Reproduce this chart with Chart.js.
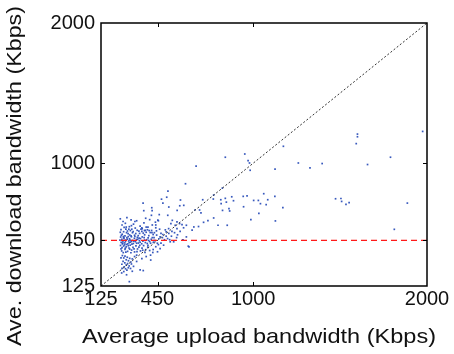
<!DOCTYPE html>
<html><head><meta charset="utf-8">
<script src="https://cdn.jsdelivr.net/npm/chart.js@4"></script>
<style>html,body{margin:0;padding:0;background:#fff}#c{display:block}</style>
</head><body>
<canvas id="c" width="454" height="354"></canvas>
<script>
// Average upload (x) and download (y) bandwidth per peer, Kbps
const uploadKbps = [
1975,1600,1600,1593,1174,1790,952,971,979,983,840,672,1260,1397,1327,1658,1126,611,510,473,481,503,367,371,417,419,415,460,452,515,509,563,578,582,601,710,665,692,700,773,771,814,816,840,846,877,887,823,943,965,1003,1030,1042,1061,1084,1075,1125,1171,945,824,861,865,1128,987,1033,798,773,851,740,686,715,627,595,1474,1505,1509,1534,1552,1887,1812,
535,527,562,577,591,552,514,500,533,562,481,465,508,523,543,485,465,450,423,411,631,597,616,649,659,616,
236,252,274,298,246,265,288,312,330,350,372,395,405,420,438,258,322,362,440,382,
240,255,268,281,294,306,318,333,347,360,376,392,408,425,444,247,263,277,290,302,325,339,355,368,385,400,416,432,236,272,310,343,380,242,298,
238,245,251,257,262,268,274,279,284,289,295,300,306,311,317,323,329,334,340,346,352,359,366,373,380,388,396,405,414,426,437,449,241,248,254,266,271,282,292,303,314,320,336,350,362,376,391,420,258,287,344,399,234,276,
237,246,255,263,270,278,286,293,301,309,318,326,335,343,352,361,370,382,394,244,253,268,282,297,315,332,348,365,240,260,290,378,405,
248,256,263,270,276,283,290,297,262,270,278,287,300,252,258,266,274,282,295,245,305,318,330,350,368,244,256,272,305,288,240,312,330,360,385,410,246,
385,402,418,430,445,458,470,462,478,490,455,440,425,470,500,515,495,530,548,520,565,580,600,560,410,395,430,360,375,440,455,300,320,270,285,255,265,250,300,330
];
const downloadKbps = [
1227,1208,1189,1140,1121,1043,1066,1019,1002,950,1043,979,1002,998,967,991,958,854,801,744,716,758,716,662,683,662,629,634,594,688,629,664,697,738,700,740,667,667,646,773,745,740,712,750,723,761,733,823,764,768,735,735,712,783,740,705,764,684,690,664,676,660,589,598,643,558,610,558,591,549,579,409,454,747,749,728,707,719,716,529,
593,570,582,570,563,558,534,511,515,534,492,475,463,440,440,416,392,369,364,310,404,452,475,523,546,558,
604,585,612,596,560,572,548,566,590,552,575,545,598,560,580,543,538,533,540,608,
527,512,530,498,520,505,487,522,500,514,490,526,506,492,518,494,483,517,489,530,499,484,531,502,508,484,521,505,508,505,513,516,522,486,482,
474,458,441,467,432,452,470,425,446,461,437,476,450,428,465,441,456,472,431,448,463,426,444,470,435,455,468,442,458,436,449,430,436,425,478,444,421,477,452,423,444,478,458,437,475,452,428,470,451,434,466,450,452,459,
414,398,410,386,404,372,396,416,381,400,368,411,389,402,375,395,413,384,402,375,363,367,412,362,390,370,415,380,390,418,388,365,378,
342,325,338,312,330,305,322,296,290,275,285,268,282,300,262,248,238,255,250,280,318,335,300,240,235,218,228,205,230,156,325,265,345,320,335,345,250,
545,520,505,470,488,462,500,530,470,455,420,405,385,430,480,500,525,480,505,455,490,515,540,470,430,415,448,540,520,560,590,555,585,545,530,470,395,430,445,430
];
const tickValues = [125, 450, 1000, 2000];
const axisMin = 125, axisMax = 2000;
const thresholdKbps = 450;
const xTitle = 'Average upload bandwidth (Kbps)';
const yTitle = 'Ave. download bandwidth (Kbps)';

const points = uploadKbps.map((x, i) => ({x: x, y: downloadKbps[i]}));
const FONT = '"Liberation Sans", Arial, Helvetica, sans-serif';

function fitText(ctx, text, cx, cy, width) {
  const w = ctx.measureText(text).width;
  ctx.save();
  ctx.translate(cx, cy);
  ctx.scale(width / w, 1);
  ctx.fillText(text, 0, 0);
  ctx.restore();
}

const framePlugin = {
  id: 'frame',
  afterDatasetsDraw(chart) {
    const {ctx, chartArea: a, scales} = chart;
    ctx.save();
    ctx.strokeStyle = '#000';
    ctx.lineWidth = 1.5;
    ctx.strokeRect(a.left, a.top, a.right - a.left, a.bottom - a.top);
    ctx.lineWidth = 1;
    const L = 4;
    tickValues.forEach(v => {
      if (v === axisMin || v === axisMax) return;
      const px = Math.round(scales.x.getPixelForValue(v)) + 0.5;
      ctx.beginPath();
      ctx.moveTo(px, a.bottom); ctx.lineTo(px, a.bottom - L);
      ctx.moveTo(px, a.top); ctx.lineTo(px, a.top + L);
      ctx.stroke();
      const py = Math.round(scales.y.getPixelForValue(v)) + 0.5;
      ctx.beginPath();
      ctx.moveTo(a.left, py); ctx.lineTo(a.left + L, py);
      ctx.moveTo(a.right, py); ctx.lineTo(a.right - L, py);
      ctx.stroke();
    });
    ctx.fillStyle = '#111';
    ctx.font = '21px ' + FONT;
    ctx.textAlign = 'center';
    ctx.textBaseline = 'middle';
    fitText(ctx, xTitle, 259, 337, 354);
    ctx.save();
    ctx.translate(15, 176);
    ctx.rotate(-Math.PI / 2);
    fitText(ctx, yTitle, 0, 0, 340);
    ctx.restore();
    ctx.restore();
  }
};

const tickFont = {family: FONT, size: 20};

new Chart(document.getElementById('c'), {
  data: {
    datasets: [
      {
        type: 'line',
        data: [{x: axisMin, y: thresholdKbps}, {x: axisMax, y: thresholdKbps}],
        borderColor: '#ff1a1a', borderWidth: 1.3, borderDash: [6, 4],
        pointRadius: 0, order: 0
      },
      {
        type: 'line',
        data: [{x: axisMin, y: axisMin}, {x: axisMax, y: axisMax}],
        borderColor: '#333', borderWidth: 1, borderDash: [2, 2],
        pointRadius: 0, order: 0
      },
      {
        type: 'scatter',
        data: points,
        backgroundColor: 'rgba(45,80,185,0.95)',
        borderWidth: 0,
        pointStyle: 'rect',
        pointRadius: 1.2,
        order: 1
      }
    ]
  },
  options: {
    responsive: false,
    animation: false,
    devicePixelRatio: 1,
    layout: {padding: {top: 23, right: 27, left: 0, bottom: 0}},
    plugins: {legend: {display: false}, tooltip: {enabled: false}},
    scales: {
      x: {
        type: 'linear', min: axisMin, max: axisMax,
        afterBuildTicks: s => { s.ticks = tickValues.map(v => ({value: v})); },
        afterFit: s => { s.height = 68; },
        ticks: {font: tickFont, color: '#111', padding: 1, maxRotation: 0, autoSkip: false,
                callback: v => String(v)},
        grid: {display: false, drawTicks: false},
        border: {display: false}
      },
      y: {
        type: 'linear', min: axisMin, max: axisMax,
        afterBuildTicks: s => { s.ticks = tickValues.map(v => ({value: v})); },
        afterFit: s => { s.width = 101; },
        ticks: {font: tickFont, color: '#111', padding: 6, autoSkip: false,
                callback: v => String(v)},
        grid: {display: false, drawTicks: false},
        border: {display: false}
      }
    }
  },
  plugins: [framePlugin]
});
</script>
</body></html>
